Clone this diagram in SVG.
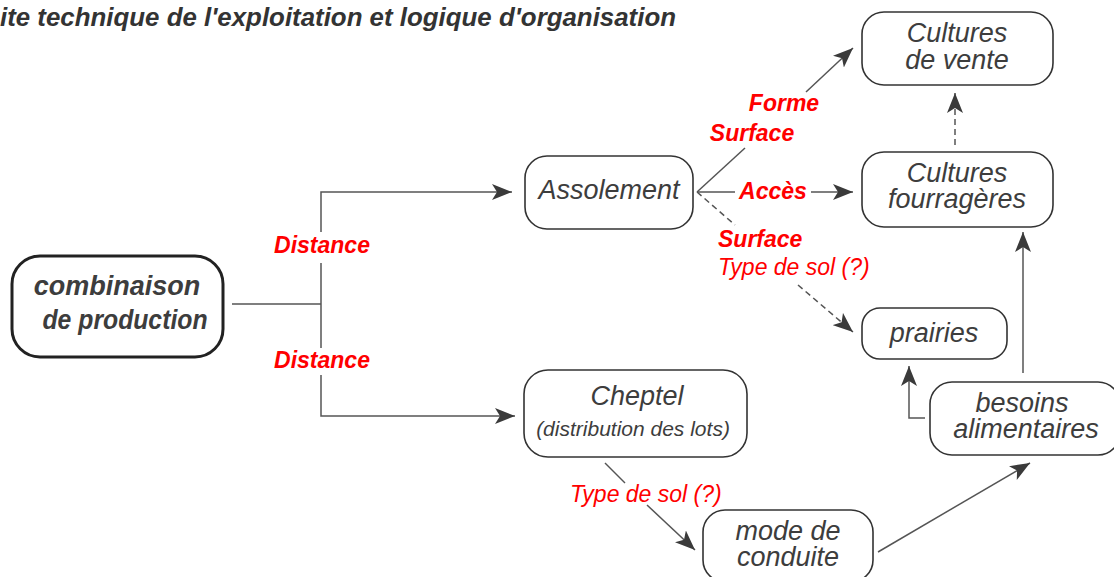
<svg xmlns="http://www.w3.org/2000/svg" width="1114" height="577" viewBox="0 0 1114 577">
<style>
.box{fill:#fff;stroke:#333;stroke-width:1.6}
.main{fill:#fff;stroke:#222;stroke-width:3}
.nt{font-family:"Liberation Sans",Arial,sans-serif;font-style:italic;font-size:27px;fill:#3d3d3d;text-anchor:middle}
.bt{font-family:"Liberation Sans",Arial,sans-serif;font-style:italic;font-weight:bold;font-size:27px;fill:#3d3d3d;text-anchor:middle}
.rb{font-family:"Liberation Sans",Arial,sans-serif;font-style:italic;font-weight:bold;font-size:23px;fill:#f00}
.rr{font-family:"Liberation Sans",Arial,sans-serif;font-style:italic;font-size:23px;fill:#f00}
.ln{fill:none;stroke:#555;stroke-width:1.5}
.ds{fill:none;stroke:#555;stroke-width:1.5;stroke-dasharray:6 4}
</style>
<defs>
<marker id="ah" markerUnits="userSpaceOnUse" markerWidth="22" markerHeight="16" refX="20" refY="8" orient="auto">
<path d="M0,0 L20,8 L0,16 L5,8 Z" fill="#3a3a3a"/>
</marker>
</defs>
<rect width="1114" height="577" fill="#fff"/>
<text x="0" y="26" font-family="Liberation Sans,Arial,sans-serif" font-style="italic" font-weight="bold" font-size="25" fill="#333" textLength="676" lengthAdjust="spacingAndGlyphs">ite technique de l'exploitation et logique d'organisation</text>

<g id="connectors">
<path class="ln" d="M232,304 H321"/>
<path class="ln" d="M321,232 V192 H512" marker-end="url(#ah)"/>
<path class="ln" d="M321,263 V348"/>
<path class="ln" d="M321,375 V416 H515" marker-end="url(#ah)"/>
<path class="ln" d="M697,192 L745,148"/>
<path class="ln" d="M806,92 L853,48" marker-end="url(#ah)"/>
<path class="ln" d="M697,192 H735"/>
<path class="ln" d="M811,192 H853" marker-end="url(#ah)"/>
<path class="ds" d="M697,192 L735,225"/>
<path class="ds" d="M798,285 L853,332" marker-end="url(#ah)"/>
<path class="ds" d="M955,145 V93" marker-end="url(#ah)"/>
<path class="ln" d="M1023,373 V232" marker-end="url(#ah)"/>
<path class="ln" d="M925,418 H909 V366" marker-end="url(#ah)"/>
<path class="ln" d="M605,463 L625,483"/>
<path class="ln" d="M647,505 L695,550" marker-end="url(#ah)"/>
<path class="ln" d="M878,552 L1030,463" marker-end="url(#ah)"/>
<text class="rb" x="322" y="253" text-anchor="middle">Distance</text>
<text class="rb" x="322" y="368" text-anchor="middle">Distance</text>
<text class="rb" x="784" y="111" text-anchor="middle">Forme</text>
<text class="rb" x="752" y="141" text-anchor="middle">Surface</text>
<text class="rb" x="773" y="199" text-anchor="middle">Accès</text>
<text class="rb" x="718" y="247">Surface</text>
<text class="rr" x="718" y="275">Type de sol (?)</text>
<text class="rr" x="570" y="502">Type de sol (?)</text>
</g>

<g id="combinaison">
<rect class="main" x="12" y="256" width="211" height="101" rx="28"/>
<text class="bt" x="117" y="295">combinaison</text>
<text class="bt" x="125" y="329" textLength="165" lengthAdjust="spacingAndGlyphs">de production</text>
</g>
<g id="assolement">
<rect class="box" x="525" y="156" width="168" height="73" rx="22"/>
<text class="nt" x="609" y="199">Assolement</text>
</g>
<g id="cultures-vente">
<rect class="box" x="862" y="12" width="191" height="73" rx="22"/>
<text class="nt" x="957" y="42">Cultures</text>
<text class="nt" x="957" y="69">de vente</text>
</g>
<g id="cultures-fourrageres">
<rect class="box" x="862" y="152" width="191" height="75" rx="22"/>
<text class="nt" x="957" y="182">Cultures</text>
<text class="nt" x="957" y="208">fourragères</text>
</g>
<g id="prairies">
<rect class="box" x="862" y="308" width="145" height="51" rx="18"/>
<text class="nt" x="934" y="342">prairies</text>
</g>
<g id="besoins">
<rect class="box" x="930" y="382" width="190" height="73" rx="22"/>
<text class="nt" x="1022" y="412">besoins</text>
<text class="nt" x="1026" y="438">alimentaires</text>
</g>
<g id="cheptel">
<rect class="box" x="524" y="370" width="223" height="87" rx="24"/>
<text class="nt" x="637" y="405">Cheptel</text>
<text class="nt" x="633" y="436" style="font-size:21px">(distribution des lots)</text>
</g>
<g id="mode-conduite">
<rect class="box" x="703" y="510" width="170" height="72" rx="22"/>
<text class="nt" x="788" y="540">mode de</text>
<text class="nt" x="788" y="566">conduite</text>
</g>
</svg>
